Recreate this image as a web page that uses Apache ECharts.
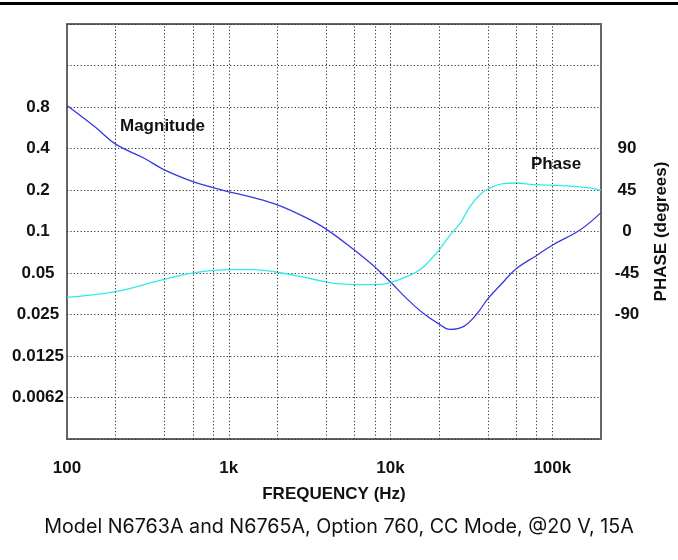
<!DOCTYPE html>
<html>
<head>
<meta charset="utf-8">
<script src="https://cdn.jsdelivr.net/npm/echarts@6/dist/echarts.min.js"></script>
<style>
  html, body { margin: 0; padding: 0; background: #fff; }
  #bode { width: 678px; height: 560px; }
</style>
</head>
<body>
<div id="bode"></div>
<script>
// magnitude curve (left log2 axis)
var magFreq = [100, 150, 200, 300, 400, 600, 800, 1000, 1400, 2000, 3000, 4000, 6000, 8000, 8620, 10000, 12600, 16000, 20000, 23200, 28400, 34300, 40000, 47700, 60000, 80000, 100000, 149000, 200000];
var magValue = [0.82, 0.57, 0.43, 0.34, 0.28, 0.23, 0.208, 0.194, 0.177, 0.156, 0.126, 0.104, 0.073, 0.0553, 0.0508, 0.043, 0.0326, 0.0254, 0.0213, 0.0195, 0.0205, 0.0254, 0.0326, 0.0407, 0.0538, 0.067, 0.0795, 0.103, 0.137];

// phase curve (right axis, degrees)
var phaseFreq = [100, 203, 376, 604, 1020, 1420, 1980, 2750, 3830, 4870, 6500, 8620, 10400, 12600, 15300, 17600, 20000, 23200, 27200, 31000, 35700, 40000, 49700, 60000, 76800, 117000, 170000, 200000];
var phaseValue = [-71.4, -64.9, -53, -44.9, -41.3, -41.3, -44.2, -48.6, -54, -56.9, -57.5, -57.3, -54.4, -49, -41.3, -30.8, -19.9, -4.5, 10, 27.2, 39.9, 46.1, 51.8, 52.6, 50.8, 49.7, 47.2, 44.6];

// dotted vertical grid
var gridFreq = [200, 400, 600, 800, 1000, 2000, 4000, 6000, 8000, 10000, 20000, 40000, 60000, 80000, 100000];

var magTickLabels = ['', '0.0062', '0.0125', '0.025', '0.05', '0.1', '0.2', '0.4', '0.8', '', ''];
var phaseTickLabels = [-90, -45, 0, 45, 90];

var MAG_MIN = 0.003125;
var dots = [1.2, 2.2];
var labelFont = { fontFamily: 'Liberation Sans', fontWeight: 'bold', fontSize: 17, color: '#111' };

function pairs(xs, ys) {
  return xs.map(function (x, i) { return [x, ys[i]]; });
}

var chart = echarts.init(document.getElementById('bode'));
chart.setOption({
  animation: false,
  title: {
    text: 'Model N6763A and N6765A, Option 760, CC Mode, @20 V, 15A',
    left: 'center',
    top: 512,
    textStyle: { fontFamily: 'Inter', fontWeight: 'normal', fontSize: 19.7, color: '#111' }
  },
  graphic: [
    { type: 'rect', left: 0, top: 2, shape: { width: 678, height: 3 }, style: { fill: '#000' } },
    { type: 'text', left: 120, top: 118, style: {
        text: 'Magnitude', fontFamily: 'Liberation Sans', fontWeight: 'bold', fontSize: 17, fill: '#111' } },
    { type: 'text', left: 531, top: 156, style: {
        text: 'Phase', fontFamily: 'Liberation Sans', fontWeight: 'bold', fontSize: 17, fill: '#111' } }
  ],
  grid: {
    left: 67, right: 76, top: 24, bottom: 121,
    show: true, borderColor: '#666', borderWidth: 2, backgroundColor: 'transparent'
  },
  xAxis: {
    type: 'log', logBase: 10, min: 100, max: 200000,
    name: 'FREQUENCY (Hz)', nameLocation: 'middle', nameGap: 47,
    nameTextStyle: labelFont,
    axisLine: { show: false }, axisTick: { show: false }, splitLine: { show: false },
    axisLabel: Object.assign({
      margin: 21, showMaxLabel: false,
      formatter: function (v) {
        if (v > 150000) return '';
        if (v >= 1000) return Math.round(v / 1000) + 'k';
        return String(Math.round(v));
      }
    }, labelFont)
  },
  yAxis: [
    {
      type: 'log', logBase: 2, min: MAG_MIN, max: 3.2, interval: 1,
      axisLine: { show: false }, axisTick: { show: false }, splitLine: { show: false },
      axisLabel: Object.assign({
        align: 'center', margin: 29,
        formatter: function (v) {
          var k = Math.round(Math.log2(v / MAG_MIN));
          return magTickLabels[k] || '';
        }
      }, labelFont)
    },
    {
      type: 'value', min: -225, max: 225, interval: 45, position: 'right',
      name: 'PHASE (degrees)', nameLocation: 'middle', nameGap: 52, nameRotate: 90,
      nameTextStyle: labelFont,
      axisLine: { show: false }, axisTick: { show: false },
      splitLine: { show: true, lineStyle: { color: '#333', width: 1, type: dots } },
      axisLabel: Object.assign({
        align: 'center', margin: 26,
        formatter: function (v) {
          return phaseTickLabels.indexOf(v) >= 0 ? String(v) : '';
        }
      }, labelFont)
    }
  ],
  series: [
    {
      name: 'Magnitude', type: 'line', yAxisIndex: 0,
      data: pairs(magFreq, magValue),
      smooth: 0.4, showSymbol: false,
      lineStyle: { color: '#3838e0', width: 1.3 },
      markLine: {
        silent: true, symbol: 'none', label: { show: false },
        lineStyle: { color: '#333', width: 1, type: dots },
        data: gridFreq.map(function (f) { return { xAxis: f }; })
      },
      z: 3
    },
    {
      name: 'Phase', type: 'line', yAxisIndex: 1,
      data: pairs(phaseFreq, phaseValue),
      smooth: 0.4, showSymbol: false,
      lineStyle: { color: '#30eaea', width: 1.3 },
      z: 3
    }
  ]
});
</script>
</body>
</html>
